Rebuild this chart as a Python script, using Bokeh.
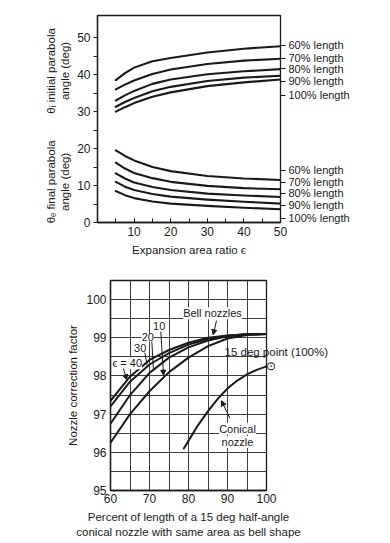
from math import pi
from bokeh.plotting import figure
from bokeh.layouts import column
from bokeh.models import Label, Arrow, NormalHead, FixedTicker, Range1d, LinearAxis
from bokeh.embed import file_html
from bokeh.resources import INLINE

FONT = "Liberation Sans"
INK = "#1a1a1a"
NB = "\u00a0"

# ---------------- Top chart data ----------------
eps = [5, 7.5, 10, 15, 20, 30, 40, 50]
length_labels = ["60% length", "70% length", "80% length", "90% length", "100% length"]
theta_i_60 = [38.5, 40.4, 41.9, 43.6, 44.5, 46.0, 47.0, 47.7]
theta_i_70 = [36.0, 37.3, 38.4, 40.2, 41.4, 42.9, 43.8, 44.3]
theta_i_80 = [33.0, 34.4, 35.6, 37.5, 38.7, 40.1, 40.9, 41.5]
theta_i_90 = [31.3, 32.6, 33.7, 35.5, 36.7, 38.3, 39.2, 39.7]
theta_i_100 = [30.0, 31.2, 32.3, 34.0, 35.2, 36.9, 37.9, 38.7]
theta_e_60 = [19.5, 18.0, 16.8, 15.0, 13.9, 12.6, 11.9, 11.5]
theta_e_70 = [16.2, 14.6, 13.4, 12.0, 11.0, 9.9, 9.3, 9.0]
theta_e_80 = [13.3, 11.9, 10.8, 9.6, 8.8, 7.8, 7.3, 6.9]
theta_e_90 = [11.0, 9.7, 8.8, 7.7, 7.0, 6.2, 5.6, 5.1]
theta_e_100 = [8.5, 7.4, 6.6, 5.7, 5.1, 4.5, 4.0, 3.6]
theta_i = [theta_i_60, theta_i_70, theta_i_80, theta_i_90, theta_i_100]
theta_e = [theta_e_60, theta_e_70, theta_e_80, theta_e_90, theta_e_100]
top_x_ticks = [10, 20, 30, 40, 50]
top_y_ticks = [0, 10, 20, 30, 40, 50]
top_label_y = [47.9, 44.4, 41.6, 38.2, 34.4]
bot_label_y = [14.1, 10.9, 7.9, 4.6, 1.2]
y_title_pos = [41, 11]
y_titles = ["\u03b8\u1d62 initial parabola\nangle (deg)", "\u03b8\u2091 final parabola\nangle (deg)"]

# ---------------- Bottom chart data ----------------
pct_len = [60, 65, 70, 75, 80, 85, 90, 95, 100]
bell_eps = ["10", "20", "30", "\u03f5 = 40"]
bell_10 = [96.25, 97.0, 97.6, 98.1, 98.48, 98.78, 98.98, 99.07, 99.1]
bell_20 = [96.75, 97.5, 98.08, 98.48, 98.75, 98.93, 99.04, 99.09, 99.1]
bell_30 = [97.2, 97.85, 98.3, 98.6, 98.82, 98.97, 99.05, 99.09, 99.1]
bell_40 = [97.35, 97.98, 98.42, 98.68, 98.87, 99.0, 99.06, 99.09, 99.1]
conical_x = [78.8, 80, 82.5, 85, 87.5, 90, 92.5, 95, 97.5, 100]
conical_y = [96.1, 96.3, 96.72, 97.08, 97.4, 97.67, 97.88, 98.04, 98.16, 98.25]
point15_y = 98.25
point15_label_y = 98.62
bot_x_ticks = [60, 70, 80, 90, 100]
bot_y_ticks = [95, 96, 97, 98, 99, 100]


def lab(p, x, y, text, size="11px", align="center", baseline="middle", bg="white"):
    kw = dict(x=x, y=y, text=text, text_font=FONT, text_font_size=size,
              text_align=align, text_baseline=baseline, text_color=INK)
    if bg:
        kw["background_fill_color"] = bg
    p.add_layout(Label(**kw))


def seg(p, x0, y0, x1, y1, head=False):
    end = NormalHead(size=5, fill_color=INK, line_color=INK, line_width=1) if head else None
    p.add_layout(Arrow(end=end, x_start=x0, y_start=y0, x_end=x1, y_end=y1,
                       line_color=INK, line_width=1))


def style_axis(ax, size="12px"):
    ax.axis_line_color = INK
    ax.axis_line_width = 1.3
    ax.major_tick_line_color = INK
    ax.minor_tick_line_color = INK
    ax.major_label_text_font = FONT
    ax.major_label_text_font_size = size
    ax.major_label_text_color = INK
    ax.axis_label_text_font = FONT
    ax.axis_label_text_font_style = "normal"
    ax.axis_label_text_color = INK


def text_axis(ticks, texts, size="11px"):
    ax = LinearAxis(ticker=FixedTicker(ticks=ticks),
                    major_label_overrides=dict(zip(ticks, texts)))
    ax.axis_line_color = None
    ax.minor_tick_line_color = None
    ax.major_label_text_font = FONT
    ax.major_label_text_font_size = size
    ax.major_label_text_color = INK
    return ax


# ================= Figure 1 =================
p1 = figure(width=390, height=260, x_range=Range1d(0, 50), y_range=Range1d(0, 56),
            output_backend="svg", toolbar_location=None, title=None,
            min_border_left=97, min_border_right=110, min_border_top=15,
            min_border_bottom=38, frame_align=False)
p1.xgrid.visible = False
p1.ygrid.visible = False
p1.outline_line_color = INK
p1.outline_line_width = 1.3
p1.background_fill_color = "white"
p1.border_fill_color = "white"

p1.xaxis.ticker = FixedTicker(ticks=top_x_ticks, minor_ticks=[5, 10, 15, 20, 25, 30, 35, 40, 45])
p1.yaxis.ticker = FixedTicker(ticks=top_y_ticks, minor_ticks=[5, 15, 25, 35, 45])
style_axis(p1.xaxis[0])
style_axis(p1.yaxis[0])
p1.xaxis.major_tick_in = 4
p1.xaxis.major_tick_out = 0
p1.xaxis.minor_tick_in = 4
p1.xaxis.minor_tick_out = 0
p1.xaxis.major_label_standoff = 4
p1.xaxis.axis_label = "Expansion area ratio \u03f5"
p1.xaxis.axis_label_text_font_size = "11.5px"
p1.xaxis.axis_label_standoff = 5
p1.yaxis.major_tick_in = 0
p1.yaxis.major_tick_out = 4
p1.yaxis.minor_tick_in = 0
p1.yaxis.minor_tick_out = 4
p1.yaxis.major_label_standoff = 3

# rotated two-line titles on the left
ax_t = text_axis(y_title_pos, y_titles, size="11.5px")
ax_t.major_tick_line_color = None
ax_t.major_label_orientation = "parallel"
ax_t.major_label_standoff = -3
p1.add_layout(ax_t, "left")

# right-hand "% length" labels
ax_r = text_axis(top_label_y + bot_label_y, length_labels + length_labels)
ax_r.major_tick_line_color = INK
ax_r.major_tick_line_width = 1
ax_r.major_tick_in = 0
ax_r.major_tick_out = 5
ax_r.major_label_standoff = 3
p1.add_layout(ax_r, "right")

for ys in theta_i + theta_e:
    p1.line(eps, ys, line_color=INK, line_width=2.1, line_join="round", line_cap="round")

# ================= Figure 2 =================
p2 = figure(width=390, height=283, x_range=Range1d(60, 100), y_range=Range1d(95, 100.5),
            output_backend="svg", toolbar_location=None, title=None,
            min_border_left=110, min_border_right=124, min_border_top=20,
            min_border_bottom=53, frame_align=False)
p2.outline_line_color = INK
p2.outline_line_width = 1.3
p2.background_fill_color = "white"
p2.border_fill_color = "white"
p2.xaxis.ticker = FixedTicker(ticks=bot_x_ticks)
p2.yaxis.ticker = FixedTicker(ticks=bot_y_ticks)
p2.xgrid.ticker = FixedTicker(ticks=[60, 65, 70, 75, 80, 85, 90, 95, 100])
p2.ygrid.ticker = FixedTicker(ticks=[95, 95.5, 96, 96.5, 97, 97.5, 98, 98.5, 99, 99.5, 100, 100.5])
for g in (p2.xgrid[0], p2.ygrid[0]):
    g.grid_line_color = "#3c3c3c"
    g.grid_line_width = 1
    g.grid_line_alpha = 1
for ax in (p2.xaxis[0], p2.yaxis[0]):
    style_axis(ax)
    ax.major_tick_in = 0
    ax.major_tick_out = 0
    ax.minor_tick_in = 0
    ax.minor_tick_out = 0
p2.xaxis.major_label_standoff = 3
p2.yaxis.major_label_standoff = 4
p2.yaxis.axis_label = "Nozzle correction factor"
p2.yaxis.axis_label_text_font_size = "11.5px"
p2.yaxis.axis_label_standoff = 4
p2.xaxis.axis_label = ("Percent of length of a 15 deg half-angle\n"
                       "conical nozzle with same area as bell shape")
p2.xaxis.axis_label_text_font_size = "11.5px"
p2.xaxis.axis_label_standoff = 5
p2.xaxis.axis_label_text_line_height = 1.3

# right side: "15 deg point (100%)" and the circled point on the frame edge
ax_r2 = text_axis([point15_label_y, point15_y],
                  ["15 deg point (100%)", NB * 13 + "\u2299"], size="11.5px")
ax_r2.major_tick_line_color = None
ax_r2.major_label_standoff = -48
p2.add_layout(ax_r2, "right")

for ys in (bell_10, bell_20, bell_30, bell_40):
    p2.line(pct_len, ys, line_color=INK, line_width=2, line_join="round", line_cap="round")
p2.line(conical_x, conical_y, line_color=INK, line_width=2, line_join="round", line_cap="round")

lab(p2, 86.15, 99.64, "Bell nozzles")
seg(p2, 87.18, 99.45, 86.33, 99.08, head=True)
lab(p2, 92.56, 96.62, "Conical")
lab(p2, 92.56, 96.27, "nozzle")
seg(p2, 90.59, 96.9, 88.45, 97.35, head=True)

lab(p2, 72.49, 99.30, bell_eps[0])
lab(p2, 69.56, 99.01, bell_eps[1])
lab(p2, 67.62, 98.74, bell_eps[2])
lab(p2, 64.28, 98.33, bell_eps[3])
seg(p2, 72.9, 99.16, 73.6, 98.02, head=True)
seg(p2, 70.6, 98.90, 71.0, 98.18)
seg(p2, 68.8, 98.61, 69.4, 98.27)
seg(p2, 63.33, 98.19, 64.15, 97.9, head=True)

layout = column(p1, p2)
open("out.html", "w").write(file_html(layout, INLINE))
